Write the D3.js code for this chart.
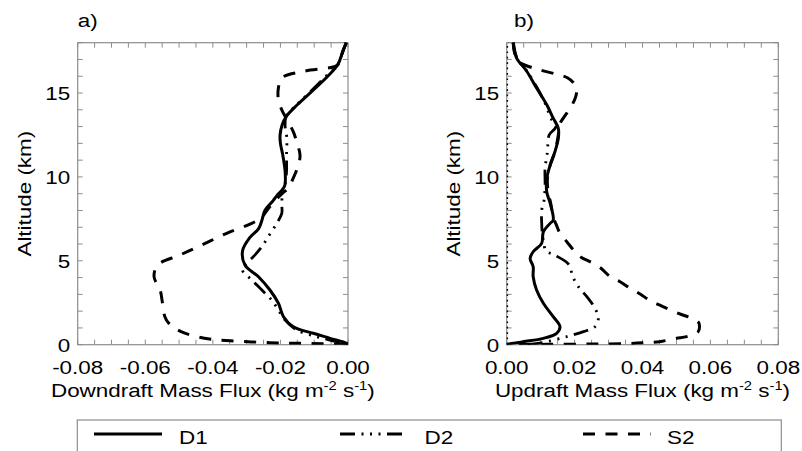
<!DOCTYPE html>
<html><head><meta charset="utf-8">
<script src="https://cdn.jsdelivr.net/npm/d3@7"></script>
<style>
html,body{margin:0;padding:0;background:#fff;}
svg{display:block;}
text{font-family:"Liberation Sans",Arial,Helvetica,sans-serif;fill:#000;}
</style></head>
<body>
<svg id="chart" width="802" height="451"></svg>
<script>
// ---------------- data (altitude in km, mass flux in kg m-2 s-1) ----------------
const seriesNames = ["D1", "D2", "S2"];
const altDownD1  = [18.0,17.5,16.7,16.0,15.1,14.3,13.6,13.1,12.5,12.0,11.3,10.3,9.5,9.2,8.9,8.6,8.0,7.4,6.9,6.4,5.6,4.75,4.05,3.26,2.47,1.67,1.07,0.68,0.38,0.08,0.0];
const fluxDownD1 = [-0.0005,-0.0015,-0.003,-0.006,-0.0107,-0.015,-0.0183,-0.0195,-0.0201,-0.0200,-0.0193,-0.0186,-0.0187,-0.0196,-0.021,-0.0221,-0.0246,-0.0255,-0.0265,-0.029,-0.0312,-0.0305,-0.0265,-0.0231,-0.0206,-0.0191,-0.0162,-0.0103,-0.0053,-0.0004,0.0];
const altDownD2  = [18.0,17.5,16.7,16.0,15.1,14.3,13.6,13.0,12.3,11.3,10.3,9.5,9.2,8.4,7.83,7.23,6.44,5.84,5.25,4.65,4.45,3.86,3.26,2.66,2.07,1.47,0.88,0.48,0.18,0.0];
const fluxDownD2 = [-0.0005,-0.0015,-0.003,-0.0065,-0.011,-0.0152,-0.0183,-0.0186,-0.0181,-0.0182,-0.0182,-0.0187,-0.0193,-0.0196,-0.0196,-0.0211,-0.0236,-0.0255,-0.028,-0.031,-0.0313,-0.0285,-0.0255,-0.0226,-0.0206,-0.0186,-0.0152,-0.0093,-0.0034,0.0];
const altDownS2  = [18.0,17.5,16.8,16.59,16.29,15.9,15.3,14.6,14.0,13.5,12.7,12.1,11.3,10.7,9.93,9.34,9.0,8.6,8.0,7.6,7.23,6.64,5.94,5.35,4.75,4.05,3.26,2.47,1.67,1.27,0.78,0.38,0.24,0.12,0.08,0.04,0.0];
const fluxDownS2 = [-0.0005,-0.0015,-0.0025,-0.0038,-0.0132,-0.0196,-0.0206,-0.0206,-0.0196,-0.0183,-0.0162,-0.0152,-0.0142,-0.0147,-0.0162,-0.0177,-0.0195,-0.0215,-0.024,-0.0255,-0.0285,-0.0359,-0.0433,-0.0497,-0.0563,-0.0574,-0.0556,-0.0549,-0.0542,-0.053,-0.0494,-0.0425,-0.0349,-0.0231,-0.0142,-0.005,0.0];

const altUpD1  = [18.0,17.1,16.3,15.3,14.3,13.5,12.9,12.3,11.5,10.7,9.9,9.1,8.43,7.43,7.23,6.73,6.04,5.54,5.15,4.65,4.05,3.26,2.47,1.67,1.07,0.68,0.38,0.18,0.04,0.0];
const fluxUpD1 = [0.0019,0.0029,0.0059,0.0088,0.0118,0.0137,0.0152,0.0152,0.0142,0.0128,0.0118,0.0118,0.0128,0.0137,0.0128,0.0108,0.0103,0.0078,0.0069,0.0078,0.0078,0.0088,0.0108,0.0137,0.0157,0.0147,0.0108,0.0049,0.0005,0.0];
const altUpD2  = [18.0,17.1,16.3,15.3,14.3,13.5,13.0,12.5,11.5,10.5,9.5,8.6,8.0,7.3,6.6,6.0,5.6,5.3,4.8,4.05,3.46,2.86,2.17,1.57,1.07,0.78,0.48,0.18,0.05,0.0];
const fluxUpD2 = [0.002,0.003,0.006,0.009,0.0115,0.013,0.0145,0.0125,0.012,0.0113,0.0113,0.011,0.0103,0.0103,0.0105,0.011,0.0115,0.0145,0.0182,0.0195,0.0211,0.0236,0.026,0.027,0.026,0.0226,0.0177,0.0118,0.008,0.004];
const altUpS2  = [18.0,17.5,17.0,16.8,16.45,16.1,15.9,15.5,15.1,14.7,14.2,13.8,13.1,12.5,11.5,10.7,9.9,9.1,8.4,7.6,7.2,6.64,6.14,5.54,5.2,4.95,4.6,4.05,3.75,3.36,3.02,2.62,2.3,1.87,1.37,1.1,0.78,0.48,0.38,0.18,0.12,0.06,0.04,0.02,0.0];
const fluxUpS2 = [0.0019,0.0022,0.003,0.0039,0.0085,0.015,0.018,0.0201,0.0206,0.0202,0.019,0.0177,0.0155,0.0152,0.0142,0.0128,0.012,0.0122,0.013,0.0137,0.0145,0.0157,0.0177,0.0201,0.022,0.0245,0.0275,0.0305,0.0334,0.0364,0.0393,0.0423,0.0457,0.0506,0.0564,0.0568,0.0564,0.053,0.05,0.045,0.041,0.035,0.025,0.012,0.0];

// zero reference (dotted) line in panel b
const altZeroLine  = [0, 18];
const fluxZeroLine = [0, 0];

// axes / ticks
const xTicksDown = [-0.08,-0.06,-0.04,-0.02,0.00];
const xTicksUp   = [0.00,0.02,0.04,0.06,0.08];
const yTicks     = [0,5,10,15];
const xTickLabelsDown = ["-0.08","-0.06","-0.04","-0.02","0.00"];
const xTickLabelsUp   = ["0.00","0.02","0.04","0.06","0.08"];
const panelLabels = ["a)", "b)"];

// ---------------- drawing ----------------
const svg = d3.select("#chart");
const SX = 1.18;          // horizontal glyph stretch to match reference font width
const FS = 19;
const frameColor = "#8c8c8c";

const y = d3.scaleLinear().domain([0, 18]).range([344.7, 42.7]);
const xA = d3.scaleLinear().domain([-0.08, 0]).range([77.7, 348]);
const xB = d3.scaleLinear().domain([0, 0.08]).range([506.7, 778.3]);

const styles = {
  D1: {dash: null, width: 3},
  D2: {dash: "15,6.5,2,6.5,2,6.5,2,6.5", width: 2.8},
  S2: {dash: "12,10.5", width: 3}
};

function stretchedText(parent, x, yy, anchor, rot) {
  return parent.append("text")
    .attr("transform", `translate(${x},${yy}) rotate(${rot || 0}) scale(${SX},1)`)
    .attr("text-anchor", anchor)
    .style("font-size", FS + "px");
}

function fluxTitle(parent, x, yy, lead, rot) {
  const t = stretchedText(parent, x, yy, "middle", rot);
  t.append("tspan").text(lead + " (kg m");
  t.append("tspan").attr("dy", -7).style("font-size", "12.5px").text("-2");
  t.append("tspan").attr("dy", 7).text(" s");
  t.append("tspan").attr("dy", -7).style("font-size", "12.5px").text("-1");
  t.append("tspan").attr("dy", 7).text(")");
}

function drawPanel(x, opts) {
  const [x0, x1] = x.range();
  const [y0, y1] = [y(18), y(0)];
  const g = svg.append("g");
  const clipId = "clip" + opts.key;
  svg.append("defs").append("clipPath").attr("id", clipId)
    .append("rect").attr("x", x0).attr("y", y0 - 2).attr("width", x1 - x0).attr("height", y1 - y0 + 2);

  // ticks (inward, all four sides)
  const dom = x.domain();
  const minorX = d3.range(Math.round(dom[0] / 0.005), Math.round(dom[1] / 0.005) + 1).map(i => i * 0.005);
  const minorY = d3.range(0, 19);
  const tg = g.append("g").attr("stroke", frameColor).attr("stroke-width", 1);
  minorX.forEach(v => {
    const L = 5;
    tg.append("line").attr("x1", x(v)).attr("x2", x(v)).attr("y1", y1).attr("y2", y1 - L);
    tg.append("line").attr("x1", x(v)).attr("x2", x(v)).attr("y1", y0).attr("y2", y0 + L);
  });
  minorY.forEach(v => {
    const L = 5;
    tg.append("line").attr("x1", x0).attr("x2", x0 + L).attr("y1", y(v)).attr("y2", y(v));
    tg.append("line").attr("x1", x1).attr("x2", x1 - L).attr("y1", y(v)).attr("y2", y(v));
  });
  // frame
  g.append("rect").attr("x", x0).attr("y", y0).attr("width", x1 - x0).attr("height", y1 - y0)
    .attr("fill", "none").attr("stroke", frameColor).attr("stroke-width", 1.2);

  // tick labels
  opts.xTicks.forEach((v, i) => {
    stretchedText(g, x(v), 374, "middle").text(opts.xLabels[i]);
  });
  yTicks.forEach(v => {
    stretchedText(g, x0 - 7.5, y(v) + 6.8, "end").text(String(v));
  });

  // axis titles
  fluxTitle(g, (x0 + x1) / 2, 397, opts.title);
  stretchedText(g, x0 - opts.yTitleOff, (y0 + y1) / 2, "middle", -90).text("Altitude (km)");
  stretchedText(g, x0 + opts.labelOff, 27, "start").text(opts.panelLabel);

  // curves
  const cg = g.append("g").attr("clip-path", `url(#${clipId})`).attr("fill", "none").attr("stroke", "#000");
  const line = d3.line().x(d => x(d[1])).y(d => y(d[0])).curve(d3.curveCatmullRom.alpha(0.5));
  if (opts.zero) {
    cg.append("path")
      .attr("d", d3.line().x(d => x(d[1])).y(d => y(d[0]))(d3.zip(altZeroLine, fluxZeroLine)))
      .attr("stroke-width", 2.8).attr("stroke-dasharray", "1.7,3.7");
  }
  opts.series.forEach((s, i) => {
    const st = styles[seriesNames[i]];
    cg.append("path").attr("d", line(d3.zip(s[0], s[1])))
      .attr("stroke-width", st.width)
      .attr("stroke-dasharray", st.dash)
      .attr("stroke-linejoin", "round");
  });
}

drawPanel(xA, {
  key: "A", xTicks: xTicksDown, xLabels: xTickLabelsDown, title: "Downdraft Mass Flux",
  yTitleOff: 46.7, labelOff: 0, panelLabel: panelLabels[0], zero: false,
  series: [[altDownD1, fluxDownD1], [altDownD2, fluxDownD2], [altDownS2, fluxDownS2]]
});
drawPanel(xB, {
  key: "B", xTicks: xTicksUp, xLabels: xTickLabelsUp, title: "Updraft Mass Flux",
  yTitleOff: 47.2, labelOff: 7.3, panelLabel: panelLabels[1], zero: true,
  series: [[altUpD1, fluxUpD1], [altUpD2, fluxUpD2], [altUpS2, fluxUpS2]]
});

// legend
const lg = svg.append("g");
lg.append("rect").attr("x", 77.3).attr("y", 420).attr("width", 704).attr("height", 45)
  .attr("fill", "none").attr("stroke", frameColor).attr("stroke-width", 1.2);
const legendLineX = [94, 340, 583];
const legendTextX = [179, 424.5, 667];
seriesNames.forEach((name, i) => {
  const st = styles[name];
  lg.append("line").attr("x1", legendLineX[i]).attr("x2", legendLineX[i] + 68)
    .attr("y1", 434).attr("y2", 434).attr("stroke", "#000")
    .attr("stroke-width", st.width).attr("stroke-dasharray", st.dash);
  stretchedText(lg, legendTextX[i], 444, "start").text(name);
});
</script>
</body></html>
